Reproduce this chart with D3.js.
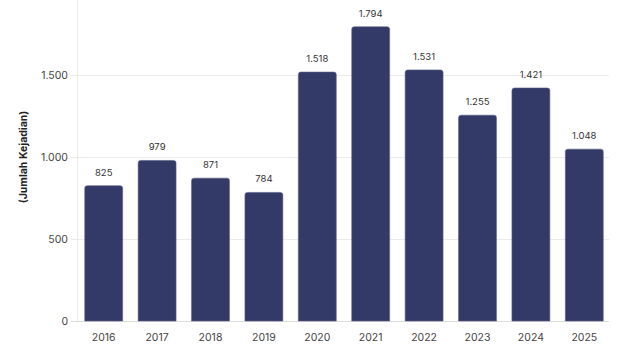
<!DOCTYPE html>
<html><head><meta charset="utf-8">
<script src="https://cdn.jsdelivr.net/npm/d3@7"></script>
<style>
html,body{margin:0;padding:0;background:#fff;}
svg{display:block;font-family:Inter, "Open Sans", sans-serif;}
</style></head>
<body>
<svg id="c" width="620" height="348"></svg>
<script>
const years = ["2016","2017","2018","2019","2020","2021","2022","2023","2024","2025"];
const counts = [825, 979, 871, 784, 1518, 1794, 1531, 1255, 1421, 1048];
const yTicks = [0, 500, 1000, 1500];
const yTitle = "(Jumlah Kejadian)";

const loc = d3.formatLocale({decimal: ",", thousands: ".", grouping: [3], currency: ["Rp", ""]});
const fmt = loc.format(",d");

const svg = d3.select("#c");
const left = 77, right = 611, bottom = 321;
const y = d3.scaleLinear().domain([0, 1500]).range([bottom, 75]);
const x = d3.scaleBand().domain(years).range([left, right]).paddingInner(0.29).paddingOuter(0.145);

// gridlines
svg.append("g").selectAll("line").data(yTicks).join("line")
  .attr("x1", left - 6).attr("x2", right - 2)
  .attr("y1", d => y(d) + 0.5).attr("y2", d => y(d) + 0.5)
  .attr("stroke", d => d === 0 ? "#dcdcdc" : "#ebebeb").attr("stroke-width", 1);
svg.append("line").attr("x1", left + 0.5).attr("x2", left + 0.5).attr("y1", 0).attr("y2", bottom)
  .attr("stroke", "#ebebeb");

// y tick labels
svg.append("g").selectAll("text").data(yTicks).join("text")
  .attr("x", 68).attr("y", d => y(d)).attr("dy", "0.35em")
  .attr("text-anchor", "end").attr("font-size", 10.5).attr("fill", "#444")
  .text(d => fmt(d));

// y title
svg.append("text").attr("transform", "translate(27," + 157 + ") rotate(-90)")
  .attr("text-anchor", "middle").attr("font-size", 10.5).attr("font-weight", "bold").attr("fill", "#222")
  .text(yTitle);

// bars
const data = years.map((d, i) => ({year: d, v: counts[i]}));
svg.append("g").selectAll("path").data(data).join("path")
  .attr("d", d => {
    const x0 = x(d.year), w = x.bandwidth(), y0 = y(d.v), r = 2.5;
    return `M${x0},${bottom}V${y0 + r}Q${x0},${y0} ${x0 + r},${y0}H${x0 + w - r}Q${x0 + w},${y0} ${x0 + w},${y0 + r}V${bottom}Z`;
  })
  .attr("fill", "#343a67").attr("stroke", "#5a5f86").attr("stroke-width", 0.6);

// value labels
svg.append("g").selectAll("text").data(data).join("text")
  .attr("x", d => x(d.year) + x.bandwidth() / 2).attr("y", d => y(d.v) - 10)
  .attr("text-anchor", "middle").attr("font-size", 9.5).attr("fill", "#333")
  .text(d => fmt(d.v));

// x labels
svg.append("g").selectAll("text").data(years).join("text")
  .attr("x", d => x(d) + x.bandwidth() / 2).attr("y", 341)
  .attr("text-anchor", "middle").attr("font-size", 10.5).attr("fill", "#444")
  .text(d => d);
</script>
</body></html>
